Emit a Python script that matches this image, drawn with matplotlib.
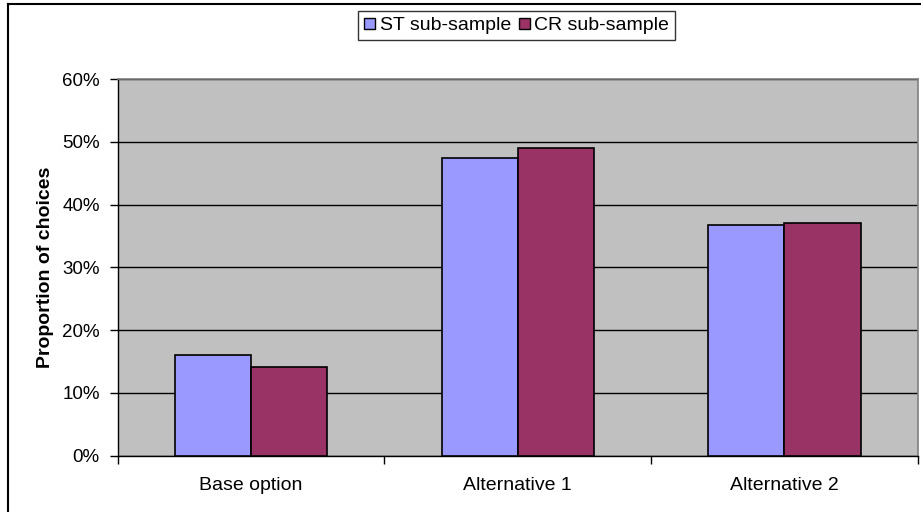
import numpy as np
import matplotlib.pyplot as plt
from matplotlib.lines import Line2D
from matplotlib.patches import Patch

plt.rcParams['font.family'] = ['Liberation Sans', 'DejaVu Sans']

# data (percent)
categories = ['Base option', 'Alternative 1', 'Alternative 2']
st_values = [16.1, 47.4, 36.8]
cr_values = [14.2, 49.0, 37.0]
series_names = ['ST sub-sample', 'CR sub-sample']
st_color = '#9999FF'
cr_color = '#993366'

W, H = 921, 512
fig = plt.figure(figsize=(W / 100, H / 100), dpi=100)
# plot area in pixel coords
left, right, top, bottom = 117.7, 917.7, 79, 455.7
ax = fig.add_axes([left / W, 1 - bottom / H, (right - left) / W, (bottom - top) / H])
ax.set_facecolor('#C0C0C0')

x = np.arange(len(categories))
bw = 1 / 3.5
ax.bar(x - bw / 2, st_values, bw, color=st_color, edgecolor='black', linewidth=1.2, zorder=3)
ax.bar(x + bw / 2, cr_values, bw, color=cr_color, edgecolor='black', linewidth=1.2, zorder=3)

ax.set_xlim(-0.5, len(categories) - 0.5)
ax.set_ylim(0, 60)
ax.set_yticks(np.arange(0, 61, 10))
ax.set_yticklabels([f'{v}%' for v in range(0, 61, 10)], fontsize=13.5)
ax.yaxis.grid(True, color='black', linewidth=1.0, zorder=1)
ax.set_axisbelow(True)

# category ticks at the boundaries, labels at centres
ax.set_xticks(np.arange(-0.5, len(categories)), minor=False)
ax.set_xticklabels([])
ax.set_xticks(x, minor=True)
ax.set_xticklabels(categories, minor=True, fontsize=14)
ax.tick_params(axis='x', which='minor', length=0, pad=15)
ax.tick_params(axis='x', which='major', length=6, width=1, direction='out')
ax.tick_params(axis='y', length=6, width=1, direction='out', pad=7)

for side in ['top', 'right']:
    ax.spines[side].set_color('#808080')
    ax.spines[side].set_linewidth(1.2)
for side in ['left', 'bottom']:
    ax.spines[side].set_color('black')
    ax.spines[side].set_linewidth(1.0)

ax.set_ylabel('Proportion of choices', fontsize=14, fontweight='bold', labelpad=6)

handles = [Patch(facecolor=st_color, edgecolor='black', linewidth=1),
           Patch(facecolor=cr_color, edgecolor='black', linewidth=1)]
leg = fig.legend(handles, series_names, loc='center', ncol=2,
                 bbox_to_anchor=(516.8 / W, 1 - 25.8 / H), fontsize=14,
                 frameon=True, fancybox=False, edgecolor='black',
                 handlelength=0.55, handleheight=0.55, handletextpad=0.25,
                 columnspacing=0.4, borderpad=0.3, borderaxespad=0)
leg.get_frame().set_linewidth(1.0)

# outer chart border
fig.add_artist(Line2D([8 / W, 8 / W], [0, 1 - 4 / H], color='black', linewidth=1.5))
fig.add_artist(Line2D([8 / W, 1], [1 - 4 / H, 1 - 4 / H], color='black', linewidth=1.5))

fig.savefig('out.png', dpi=100)
